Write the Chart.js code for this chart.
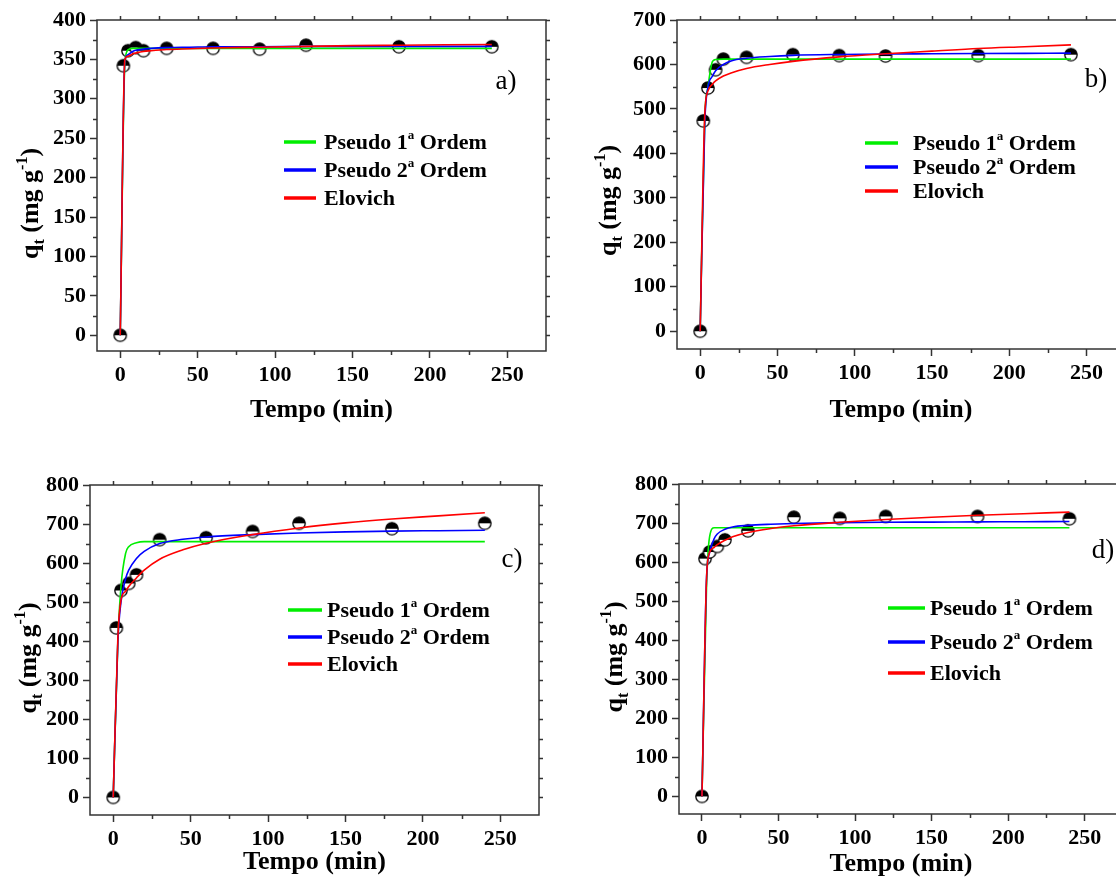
<!DOCTYPE html>
<html>
<head>
<meta charset="utf-8">
<script src="https://cdn.jsdelivr.net/npm/chart.js@4.4.1/dist/chart.umd.min.js"></script>
<style>
  body { margin: 0; background: #fff; overflow: hidden; width: 1116px; height: 879px; }
  canvas { position: absolute; }
</style>
</head>
<body>
<canvas id="pa" width="558" height="440" style="left:0;top:0"></canvas>
<canvas id="pb" width="575" height="440" style="left:560px;top:0"></canvas>
<canvas id="pc" width="558" height="439" style="left:0;top:440px"></canvas>
<canvas id="pd" width="575" height="439" style="left:560px;top:440px"></canvas>
<script>
// experimental points (time in min, q_t in mg/g)
const tExp = [0, 2, 5, 10, 15, 30, 60, 90, 120, 180, 240];
const qA = [0, 342, 361, 365, 361, 364, 364, 363, 368, 366, 366];
const qB = [0, 473, 547, 588, 612, 616, 622, 620, 619, 620, 622];
const qC = [0, 434, 530, 548, 570, 660, 665, 681, 702, 688, 702];
const qD = [0, 609, 626, 640, 657, 680, 715, 712, 717, 717, 711];

// fitted curves
const tFit = [0, 3, 5, 8, 10, 15, 20, 30, 45, 60, 90, 120, 150, 180, 210, 240];
const pfoA = [0, 345, 362, 364, 364, 364, 364, 364, 364, 364, 364, 364, 364, 364, 364, 364];
const psoA = [0, 348, 356, 360, 361.5, 363, 364, 365, 365.5, 366, 366, 366.5, 366.5, 366.5, 366.5, 366.5];
const eloA = [0, 350, 354, 357, 358, 360, 361, 362.5, 363.5, 364.5, 365.5, 366.5, 367.5, 368, 368.5, 369];

const pfoB = [0, 480, 548, 607, 611, 612, 612, 612, 612, 612, 612, 612, 612, 612, 612, 612];
const psoB = [0, 470, 548, 574, 586, 600, 608, 614, 618, 620.5, 622.5, 623.5, 624, 624.5, 625, 625.5];
const eloB = [0, 490, 540, 556, 563, 574, 581, 591, 600, 607, 617, 624, 630, 636, 640, 644];

const pfoC = [0, 400, 540, 625, 642, 652, 655, 655, 655, 655, 655, 655, 655, 655, 655, 655];
const psoC = [0, 400, 500, 560, 582, 612, 630, 650, 661, 667, 673, 677, 680, 682, 683, 684];
const eloC = [0, 410, 505, 528, 540, 562, 582, 610, 634, 651, 673, 690, 703, 713, 721, 729];

const pfoD = [0, 540, 665, 688, 688, 688, 688, 688, 688, 688, 688, 688, 688, 688, 688, 688];
const psoD = [0, 560, 625, 660, 672, 684, 690, 694, 697, 699, 701, 702, 702.5, 703, 703.5, 704];
const eloD = [0, 560, 625, 638, 645, 656, 665, 676, 686, 693, 702, 709, 715, 720, 724, 728];

// ticks
const xTicks = [0, 50, 100, 150, 200, 250];
const xMinor = [25, 75, 125, 175, 225];
const yTicksA = [0, 50, 100, 150, 200, 250, 300, 350, 400];
const yMinorA = [25, 75, 125, 175, 225, 275, 325, 375];
const yTicksB = [0, 100, 200, 300, 400, 500, 600, 700];
const yMinorB = [50, 150, 250, 350, 450, 550, 650];
const yTicksCD = [0, 100, 200, 300, 400, 500, 600, 700, 800];
const yMinorCD = [50, 150, 250, 350, 450, 550, 650, 750];

const seriesNames = ['Pseudo 1ª Ordem', 'Pseudo 2ª Ordem', 'Elovich'];
const seriesColors = ['#00ee00', '#0000ff', '#ff0000'];

const SERIF = '"Liberation Serif", "Times New Roman", serif';

function halfMarker() {
  const c = document.createElement('canvas');
  c.width = 16; c.height = 16;
  const g = c.getContext('2d');
  const r = 6.2;
  g.fillStyle = '#fff';
  g.beginPath(); g.arc(8, 8, r, 0, 2 * Math.PI); g.fill();
  g.fillStyle = '#000';
  g.beginPath(); g.arc(8, 8, r, Math.PI, 2 * Math.PI); g.closePath(); g.fill();
  g.strokeStyle = '#000'; g.lineWidth = 1.3;
  g.beginPath(); g.arc(8, 8, r, 0, 2 * Math.PI); g.stroke();
  return c;
}
const marker = halfMarker();

// text with "ª" drawn as a raised small a
function drawOrdinal(ctx, text, x, y, size) {
  const parts = text.split('ª');
  ctx.font = 'bold ' + size + 'px ' + SERIF;
  ctx.fillText(parts[0], x, y);
  if (parts.length < 2) return;
  x += ctx.measureText(parts[0]).width;
  ctx.font = 'bold ' + Math.round(size * 0.6) + 'px ' + SERIF;
  ctx.fillText('a', x, y - size * 0.32);
  x += ctx.measureText('a').width;
  ctx.font = 'bold ' + size + 'px ' + SERIF;
  ctx.fillText(parts[1], x, y);
}

const decor = {
  id: 'decor',
  afterDraw(chart, args, o) {
    const ctx = chart.ctx, a = chart.chartArea;
    const sx = chart.scales.x, sy = chart.scales.y;
    ctx.save();
    ctx.strokeStyle = '#333';
    ctx.lineWidth = 1.5;
    ctx.strokeRect(a.left, a.top, a.right - a.left, a.bottom - a.top);

    ctx.beginPath();
    xMinor.forEach(v => {
      const px = Math.round(sx.getPixelForValue(v)) + 0.5;
      ctx.moveTo(px, a.bottom); ctx.lineTo(px, a.bottom + 4);
      ctx.moveTo(px, a.top); ctx.lineTo(px, a.top - 4);
    });
    xTicks.forEach(v => {
      const px = Math.round(sx.getPixelForValue(v)) + 0.5;
      ctx.moveTo(px, a.top); ctx.lineTo(px, a.top - 4);
    });
    o.yMinor.forEach(v => {
      const py = Math.round(sy.getPixelForValue(v)) + 0.5;
      ctx.moveTo(a.left, py); ctx.lineTo(a.left - 4, py);
      ctx.moveTo(a.right, py); ctx.lineTo(a.right + 4, py);
    });
    o.yTicks.forEach(v => {
      const py = Math.round(sy.getPixelForValue(v)) + 0.5;
      ctx.moveTo(a.right, py); ctx.lineTo(a.right + 4, py);
    });
    ctx.stroke();

    // axis titles
    ctx.fillStyle = '#000';
    ctx.textAlign = 'center';
    ctx.textBaseline = 'middle';
    ctx.font = 'bold 26px ' + SERIF;
    ctx.fillText('Tempo (min)', (a.left + a.right) / 2, o.xTitleY);

    ctx.save();
    ctx.translate(o.yTitleX, (a.top + a.bottom) / 2 + o.yTitleShift);
    ctx.rotate(-Math.PI / 2);
    ctx.textAlign = 'left';
    ctx.textBaseline = 'alphabetic';
    const big = 'bold 26px ' + SERIF, small = 'bold 16px ' + SERIF;
    const pieces = [['q', big, 0], ['t', small, 6], [' (mg g', big, 0], ['-1', small, -11], [')', big, 0]];
    let w = 0;
    pieces.forEach(p => { ctx.font = p[1]; w += ctx.measureText(p[0]).width; });
    let cx = -w / 2;
    pieces.forEach(p => {
      ctx.font = p[1];
      ctx.fillText(p[0], cx, 8 + p[2]);
      cx += ctx.measureText(p[0]).width;
    });
    ctx.restore();

    // legend
    ctx.textAlign = 'left';
    ctx.textBaseline = 'middle';
    seriesNames.forEach((name, i) => {
      const ly = o.legend.y[i];
      ctx.strokeStyle = seriesColors[i];
      ctx.lineWidth = 3.5;
      ctx.beginPath();
      ctx.moveTo(o.legend.x0, ly); ctx.lineTo(o.legend.x1, ly);
      ctx.stroke();
      ctx.fillStyle = '#000';
      drawOrdinal(ctx, name, o.legend.tx, ly + 1, 22);
    });

    // panel letter
    ctx.textAlign = 'center';
    ctx.font = '27px ' + SERIF;
    ctx.fillText(o.letter, o.letterX, o.letterY);
    ctx.restore();
  }
};

function xy(ts, qs) {
  return ts.map((t, i) => ({ x: t, y: qs[i] }));
}

function makePanel(id, q, pfo, pso, elo, p) {
  const fitLine = (data, color, order) => ({
    data: xy(tFit, data), borderColor: color, borderWidth: 1.6,
    pointRadius: 0, showLine: true, fill: false,
    cubicInterpolationMode: 'monotone', order: order
  });
  return new Chart(document.getElementById(id), {
    type: 'scatter',
    data: {
      datasets: [
        fitLine(elo, seriesColors[2], 0),
        fitLine(pso, seriesColors[1], 1),
        fitLine(pfo, seriesColors[0], 2),
        { data: xy(tExp, q), pointStyle: marker, pointRadius: 7, showLine: false, order: 3 }
      ]
    },
    options: {
      responsive: false,
      animation: false,
      devicePixelRatio: 1,
      layout: { padding: { left: 0, top: p.top, right: p.right, bottom: 0 } },
      plugins: {
        legend: { display: false },
        tooltip: { enabled: false },
        decor: p
      },
      scales: {
        x: {
          type: 'linear', min: -15, max: 275,
          afterBuildTicks: s => { s.ticks = xTicks.map(v => ({ value: v })); },
          afterFit: s => { s.height = p.xH; },
          grid: { drawOnChartArea: false, tickLength: 7, tickColor: '#333', tickWidth: 1.5 },
          border: { display: false },
          ticks: { color: '#000', padding: 4, maxRotation: 0, font: { family: SERIF, size: 22, weight: 'bold' } }
        },
        y: {
          type: 'linear', min: p.yMin, max: p.yMax,
          afterBuildTicks: s => { s.ticks = p.yTicks.map(v => ({ value: v })); },
          afterFit: s => { s.width = p.leftW; },
          grid: { drawOnChartArea: false, tickLength: 7, tickColor: '#333', tickWidth: 1.5 },
          border: { display: false },
          ticks: { color: '#000', padding: 4, font: { family: SERIF, size: 22, weight: 'bold' } }
        }
      }
    },
    plugins: [decor]
  });
}

makePanel('pa', qA, pfoA, psoA, eloA, {
  leftW: 97, top: 20, right: 12, xH: 89, yMin: -20, yMax: 400,
  yTicks: yTicksA, yMinor: yMinorA, xTitleY: 410, yTitleX: 30, yTitleShift: 18,
  legend: { x0: 284, x1: 316, tx: 324, y: [142, 170, 198] },
  letter: 'a)', letterX: 506, letterY: 82
});
makePanel('pb', qB, pfoB, psoB, eloB, {
  leftW: 117, top: 20, right: 10, xH: 91, yMin: -40, yMax: 700,
  yTicks: yTicksB, yMinor: yMinorB, xTitleY: 410, yTitleX: 48, yTitleShift: 16,
  legend: { x0: 305, x1: 338, tx: 353, y: [143, 167, 191] },
  letter: 'b)', letterX: 536, letterY: 80
});
makePanel('pc', qC, pfoC, psoC, eloC, {
  leftW: 90, top: 45, right: 19, xH: 64, yMin: -45, yMax: 800,
  yTicks: yTicksCD, yMinor: yMinorCD, xTitleY: 422, yTitleX: 28, yTitleShift: 8,
  legend: { x0: 288, x1: 322, tx: 327, y: [170, 197, 224] },
  letter: 'c)', letterX: 512, letterY: 120
});
makePanel('pd', qD, pfoD, psoD, eloD, {
  leftW: 119, top: 44, right: 12, xH: 65, yMin: -45, yMax: 800,
  yTicks: yTicksCD, yMinor: yMinorCD, xTitleY: 424, yTitleX: 54, yTitleShift: 8,
  legend: { x0: 328, x1: 365, tx: 370, y: [168, 202, 233] },
  letter: 'd)', letterX: 543, letterY: 111
});
</script>
</body>
</html>
